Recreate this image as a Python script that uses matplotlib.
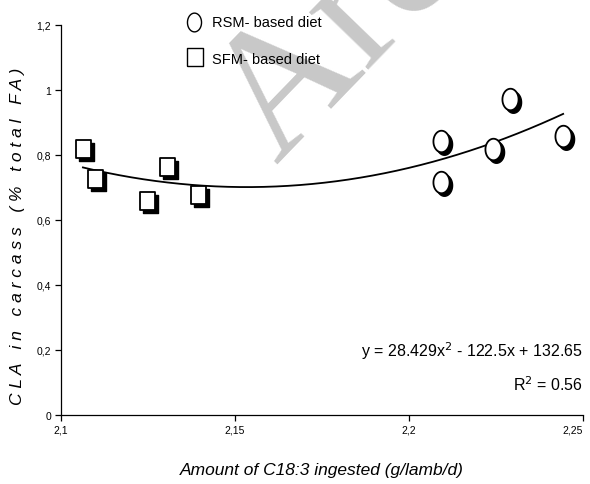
import matplotlib.pyplot as plt
import numpy as np
from matplotlib.path import Path
from matplotlib.transforms import offset_copy

plt.rcParams.update({"font.family": ["Liberation Sans Narrow", "Liberation Sans", "DejaVu Sans"]})

# data
rsm_x = [2.2092, 2.2092, 2.2241, 2.2290, 2.2443]
rsm_y = [0.843, 0.717, 0.818, 0.972, 0.858]
sfm_x = [2.1063, 2.1098, 2.1247, 2.1305, 2.1394]
sfm_y = [0.820, 0.726, 0.660, 0.763, 0.677]

xticks = [2.1, 2.15, 2.2, 2.25]
xtick_labels = ["2,1", "2,15", "2,2", "2,25"]
yticks = [0, 0.2, 0.4, 0.6, 0.8, 1.0, 1.2]
ytick_labels = ["0", "0,2", "0,4", "0,6", "0,8", "1", "1,2"]

# tall rectangle and tall ellipse markers like the original
rect = Path([(-0.8, -1), (0.8, -1), (0.8, 1), (-0.8, 1), (-0.8, -1)], closed=True)
t = np.linspace(0, 2 * np.pi, 60)
ellipse = Path(np.column_stack([0.75 * np.cos(t), np.sin(t)]), closed=True)

fig = plt.figure(figsize=(5.9, 4.85), dpi=100)
ax = fig.add_axes([61 / 590, 1 - 416 / 485, (583 - 61) / 590, (416 - 26) / 485])
ax.patch.set_alpha(0)

shadow = offset_copy(ax.transData, fig=fig, x=2.3, y=-2.3, units="points")
for xs, ys, mk, ms in [(sfm_x, sfm_y, rect, 13.5), (rsm_x, rsm_y, ellipse, 15.5)]:
    ax.plot(xs, ys, ls="none", marker=mk, ms=ms, mfc="black", mec="black",
            transform=shadow, zorder=3)
    ax.plot(xs, ys, ls="none", marker=mk, ms=ms, mfc="white", mec="black",
            mew=1.3, zorder=4)

# polynomial trendline through all points
all_x = np.array(sfm_x + rsm_x)
all_y = np.array(sfm_y + rsm_y)
coef = np.polyfit(all_x, all_y, 2)
xx = np.linspace(min(all_x), max(all_x), 200)
ax.plot(xx, np.polyval(coef, xx), color="black", lw=1.3, zorder=2)

ax.set_xlim(2.1, 2.25)
ax.set_ylim(0, 1.2)
ax.set_xticks(xticks)
ax.set_xticklabels(xtick_labels)
ax.set_yticks(yticks)
ax.set_yticklabels(ytick_labels)
ax.tick_params(labelsize=7.5, length=4, width=0.9, direction="out", pad=3)
ax.get_xticklabels()[-1].set_ha("right")
for s in ["top", "right"]:
    ax.spines[s].set_visible(False)
for s in ["left", "bottom"]:
    ax.spines[s].set_linewidth(0.9)

ax.set_xlabel("Amount of C18:3 ingested (g/lamb/d)", fontsize=12.5, style="italic",
              family=["Liberation Sans", "DejaVu Sans"], labelpad=20)
fig.text(18 / 590, 1 - 236 / 485, "C L A   i n   c a r c a s s   ( %   t o t a l   F A )",
         rotation=90, va="center", ha="center", fontsize=12.5, style="italic",
         family=["Liberation Sans", "DejaVu Sans"])

ax.text(1.0, 0.165, "y = 28.429x$^2$ - 122.5x + 132.65", transform=ax.transAxes,
        ha="right", va="center", fontsize=11.5)
ax.text(1.0, 0.08, "R$^2$ = 0.56", transform=ax.transAxes,
        ha="right", va="center", fontsize=11.5)

# legend drawn as in the original
fig.lines.append(plt.Line2D([194 / 590], [1 - 22.5 / 485], transform=fig.transFigure,
                            marker=ellipse, ms=13.5, mfc="white", mec="black", mew=1.0))
fig.lines.append(plt.Line2D([195 / 590], [1 - 57.5 / 485], transform=fig.transFigure,
                            marker=Path([(-0.82, -1), (0.82, -1), (0.82, 1), (-0.82, 1),
                                         (-0.82, -1)]),
                            ms=13.5, mfc="white", mec="black", mew=1.0))
fig.text(212 / 590, 1 - 23 / 485, "RSM- based diet", fontsize=10.5, va="center", zorder=5)
fig.text(212 / 590, 1 - 60 / 485, "SFM- based diet", fontsize=10.5, va="center", zorder=5)

# watermark
fig.text(276 / 590, 1 - 165 / 485, "Archive", fontsize=130, rotation=46, color="#c8c8c8",
         family="Liberation Serif", ha="left", va="baseline",
         rotation_mode="anchor", zorder=-1)

fig.savefig("out.png", dpi=100)
